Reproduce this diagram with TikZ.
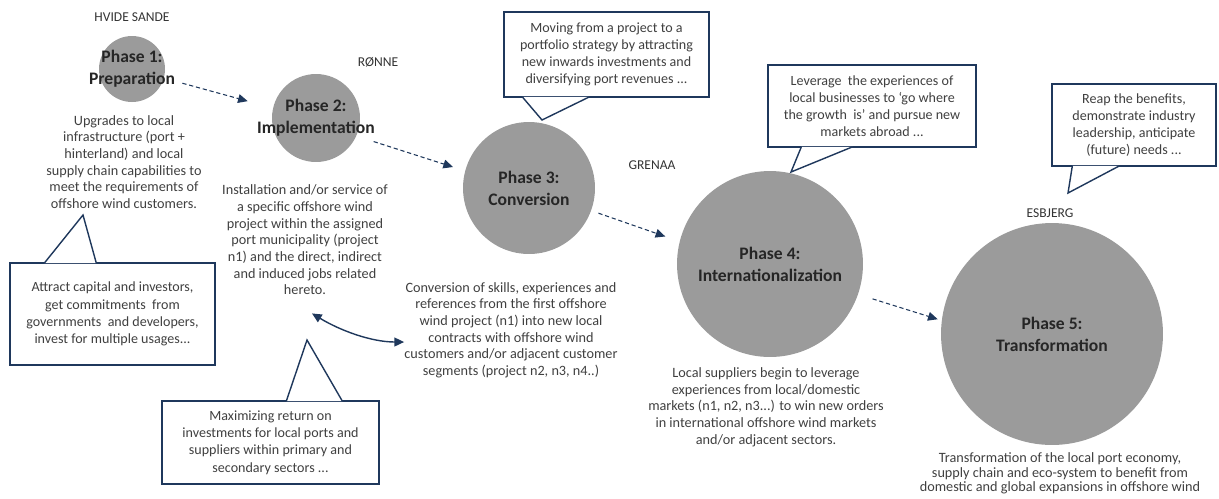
\documentclass[tikz,border=0pt]{standalone}
\usepackage{fontspec}
\setmainfont{Carlito}
\usepackage{xcolor}
\usetikzlibrary{arrows.meta,calc}

\definecolor{phasegray}{RGB}{155,155,155}
\definecolor{portnavy}{RGB}{31,56,92}
\definecolor{bodygray}{RGB}{64,64,64}

\tikzset{
  phase/.style={circle, fill=phasegray, inner sep=0pt},
  phasename/.style={align=center, inner sep=0pt, text=black!85, font=\fontsize{10}{12.5}\selectfont\bfseries},
  city/.style={inner sep=0pt, text=black!80, font=\fontsize{7.7}{9}\selectfont},
  desc/.style={align=center, inner sep=0pt, text=bodygray, font=\fontsize{8.1}{9.5}\selectfont},
  note/.style={draw=portnavy, line width=0.8pt, fill=white, inner sep=0pt, align=center, text=bodygray, font=\fontsize{8}{9.8}\selectfont},
  pointer/.style={draw=portnavy, fill=white, line width=0.8pt, line join=miter},
  flow/.style={portnavy, line width=0.6pt, dash pattern=on 2.4pt off 1.6pt, -{Triangle[length=5.5pt,width=5pt]}},
  link/.style={portnavy, line width=0.8pt, {Triangle[length=5.5pt,width=5pt]}-{Triangle[length=5.5pt,width=5pt]}},
}

\begin{document}
\begin{tikzpicture}[x=0.02cm, y=-0.02cm]
  \useasboundingbox (0,0) rectangle (1219,498);

  % draw the phase circles
  \node[phase, minimum size=1.32cm] (p1) at (132,69) {};
  \node[phase, minimum size=1.76cm] (p2) at (316,118) {};
  \node[phase, minimum size=2.64cm] (p3) at (529,188) {};
  \node[phase, minimum size=3.72cm] (p4) at (770,264) {};
  \node[phase, minimum size=4.44cm] (p5) at (1052,334) {};

  % draw phase names
  \node[phasename] (l1) at (p1) {Phase 1:\\Preparation};
  \node[phasename] (l2) at (p2) {Phase 2:\\Implementation};
  \node[phasename] (l3) at (p3) {Phase 3:\\Conversion};
  \node[phasename] (l4) at (p4) {Phase 4:\\Internationalization};
  \node[phasename] (l5) at (p5) {Phase 5:\\Transformation};

  % draw port names
  \node[city] (hvide) at (132,17) {HVIDE SANDE};
  \node[city] (ronne) at (378,62) {RØNNE};
  \node[city] (grenaa) at (652,165) {GRENAA};
  \node[city] (esbjerg) at (1050,213) {ESBJERG};

  % draw descriptions
  \node[desc] (d1) at (124,162) {Upgrades to local\\infrastructure (port +\\hinterland) and local\\supply chain capabilities to\\meet the requirements of\\offshore wind customers.};
  \node[desc] (d2) at (305,240) {Installation and/or service of\\a specific offshore wind\\project within the assigned\\port municipality (project\\n1) and the direct, indirect\\and induced jobs related\\hereto.};
  \node[desc] (d3) at (511,330) {Conversion of skills, experiences and\\references from the first offshore\\wind project (n1) into new local\\contracts with offshore wind\\customers and/or adjacent customer\\segments (project n2, n3, n4..)};
  \node[desc] (d4) at (766,407) {Local suppliers begin to leverage\\experiences from local/domestic\\markets (n1, n2, n3...) to win new orders\\in international offshore wind markets\\and/or adjacent sectors.};
  \node[desc, anchor=north, font=\fontsize{8.1}{8.4}\selectfont] (d5) at (1060,452) {Transformation of the local port economy,\\supply chain and eco-system to benefit from\\domestic and global expansions in offshore wind};

  % draw dashed arrows between phases
  \draw[flow, shorten <=0.38cm, shorten >=0.52cm] (p1.-16) -- (p2.167);
  \draw[flow, shorten <=0.36cm, shorten >=0.25cm] (p2.-24) -- (p3.165);
  \draw[flow, shorten <=0.15cm, shorten >=0.30cm] (p3.-20) -- (p4.166);
  \draw[flow, shorten <=0.30cm, shorten >=0.08cm] (p4.-19) -- (p5.173);

  % curved link between phase 2 and 3
  \draw[link] ($(d2.south)+(7,18)$) .. controls ($(d2.south)+(35,35)$) and ($(d3.west)+(-33,12)$) .. ($(d3.west)+(0,12)$);

  % draw callouts
  \node[note, minimum width=4.1cm, minimum height=2.04cm] (c1) at (112.5,314) {Attract capital and investors,\\get commitments~ from\\governments~ and developers,\\invest for multiple usages...};
  \filldraw[pointer] ($(c1.north west)+(35,0.8)$) -- (83,215) -- ($(c1.north west)+(87,0.8)$);

  \node[note, minimum width=4.34cm, minimum height=1.66cm] (c2) at (270.5,442.5) {Maximizing return on\\investments for local ports and\\suppliers within primary and\\secondary sectors ...};
  \filldraw[pointer] ($(c2.north west)+(125,0.8)$) -- (307,340) -- ($(c2.north west)+(181,0.8)$);

  \node[note, minimum width=4.1cm, minimum height=1.7cm] (c3) at (606.5,54.5) {Moving from a project to a\\portfolio strategy by attracting\\new inwards investments and\\diversifying port revenues ...};
  \filldraw[pointer] ($(c3.south west)+(19,-0.8)$) -- (542,120) -- ($(c3.south west)+(86,-0.8)$);

  \node[note, minimum width=4.16cm, minimum height=1.64cm] (c4) at (872,106) {Leverage~ the experiences of\\local businesses to ‘go where\\the growth~ is’ and pursue new\\markets abroad ...};
  \filldraw[pointer] ($(c4.south west)+(34,-0.8)$) -- (791,172) -- ($(c4.south west)+(85,-0.8)$);

  \node[note, minimum width=3.28cm, minimum height=1.64cm] (c5) at (1134,125) {Reap the benefits,\\demonstrate industry\\leadership, anticipate\\(future) needs ...};
  \filldraw[pointer] ($(c5.south west)+(21,-0.8)$) -- (1068,193) -- ($(c5.south west)+(68,-0.8)$);

\end{tikzpicture}
\end{document}
